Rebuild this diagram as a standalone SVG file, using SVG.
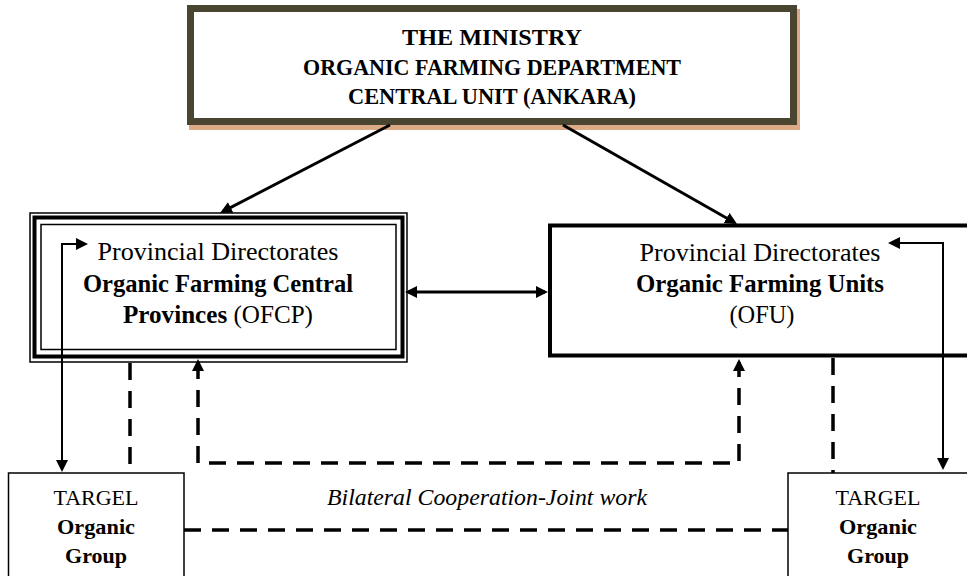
<svg xmlns="http://www.w3.org/2000/svg" width="967" height="576" viewBox="0 0 967 576">
  <style>
    text { font-family: "Liberation Serif", "Times New Roman", serif; fill: #000; text-anchor: middle; }
    .b { font-weight: bold; }
    .it { font-style: italic; }
    .box { fill: #fff; stroke: #000; }
    .conn { fill: none; stroke: #000; }
    .thick { stroke-width: 3; }
    .thin { stroke-width: 2; }
    .dash { stroke-width: 3.5; stroke-dasharray: 17 11; }
  </style>
  <defs>
    <marker id="ah" viewBox="0 0 12 12" refX="9" refY="6" markerWidth="12" markerHeight="12" markerUnits="userSpaceOnUse" orient="auto-start-reverse">
      <path d="M0,0 L12,6 L0,12 Z" fill="#000" stroke="none"/>
    </marker>
  </defs>
  <rect width="967" height="576" fill="#fff"/>

  <g id="ministry">
    <rect x="189" y="9" width="611" height="121" fill="#dcaa86"/>
    <rect x="190.5" y="8.5" width="603" height="113" fill="#fff" stroke="#4a4530" stroke-width="7"/>
    <text x="492" y="45" class="b" font-size="24" textLength="180" lengthAdjust="spacingAndGlyphs">THE MINISTRY</text>
    <text x="492" y="75" class="b" font-size="23" textLength="378" lengthAdjust="spacingAndGlyphs">ORGANIC FARMING DEPARTMENT</text>
    <text x="492" y="104" class="b" font-size="23" textLength="288" lengthAdjust="spacingAndGlyphs">CENTRAL UNIT (ANKARA)</text>
  </g>

  <g id="ofcp">
    <rect x="30" y="213" width="377" height="149" class="box" stroke-width="1.5"/>
    <rect x="34.5" y="217.5" width="368" height="139" fill="none" stroke="#000" stroke-width="4"/>
    <rect x="41" y="224.5" width="355" height="125" fill="none" stroke="#000" stroke-width="1.5"/>
    <text x="218" y="260" font-size="25" textLength="241" lengthAdjust="spacingAndGlyphs">Provincial Directorates</text>
    <text x="218" y="292" class="b" font-size="25" textLength="270" lengthAdjust="spacingAndGlyphs">Organic Farming Central</text>
    <text x="218" y="323" font-size="25" textLength="190" lengthAdjust="spacingAndGlyphs"><tspan class="b">Provinces</tspan> (OFCP)</text>
  </g>

  <g id="ofu">
    <rect x="550" y="225.5" width="430" height="130" class="box" stroke-width="4"/>
    <text x="760" y="261" font-size="25" textLength="241" lengthAdjust="spacingAndGlyphs">Provincial Directorates</text>
    <text x="760" y="292" class="b" font-size="25" textLength="248" lengthAdjust="spacingAndGlyphs">Organic Farming Units</text>
    <text x="762" y="323" font-size="25" textLength="65" lengthAdjust="spacingAndGlyphs">(OFU)</text>
  </g>

  <g id="targel-left">
    <rect x="8.5" y="473" width="175.5" height="120" class="box" stroke-width="1.5"/>
    <text x="96" y="505" font-size="22" textLength="85" lengthAdjust="spacingAndGlyphs">TARGEL</text>
    <text x="96" y="534" class="b" font-size="22" textLength="78" lengthAdjust="spacingAndGlyphs">Organic</text>
    <text x="96" y="563" class="b" font-size="22" textLength="62" lengthAdjust="spacingAndGlyphs">Group</text>
  </g>

  <g id="targel-right">
    <rect x="788" y="473" width="200" height="120" class="box" stroke-width="1.5"/>
    <text x="878" y="505" font-size="22" textLength="85" lengthAdjust="spacingAndGlyphs">TARGEL</text>
    <text x="878" y="534" class="b" font-size="22" textLength="78" lengthAdjust="spacingAndGlyphs">Organic</text>
    <text x="878" y="563" class="b" font-size="22" textLength="62" lengthAdjust="spacingAndGlyphs">Group</text>
  </g>

  <g id="connectors">
    <path class="conn thick" d="M390,125 L222.7,211.6" marker-end="url(#ah)"/>
    <path class="conn thick" d="M563,125 L734.4,222.5" marker-end="url(#ah)"/>
    <path class="conn thick" d="M408,292 L545,292" marker-start="url(#ah)" marker-end="url(#ah)"/>
    <path class="conn thin" d="M62,469 L62,244 L85,244" marker-start="url(#ah)" marker-end="url(#ah)"/>
    <path class="conn thin" d="M943,467 L943,243 L891,243" marker-start="url(#ah)" marker-end="url(#ah)"/>
    <path class="conn dash" d="M198,362 L198,463 L739,463 L739,362" marker-start="url(#ah)" marker-end="url(#ah)"/>
    <path class="conn dash" d="M130,363 L130,473"/>
    <path class="conn dash" d="M833,358 L833,473"/>
    <path class="conn dash" d="M184,530 L788,530"/>
  </g>

  <text x="487" y="505" class="it" font-size="23" textLength="320" lengthAdjust="spacingAndGlyphs">Bilateral Cooperation-Joint work</text>
</svg>
